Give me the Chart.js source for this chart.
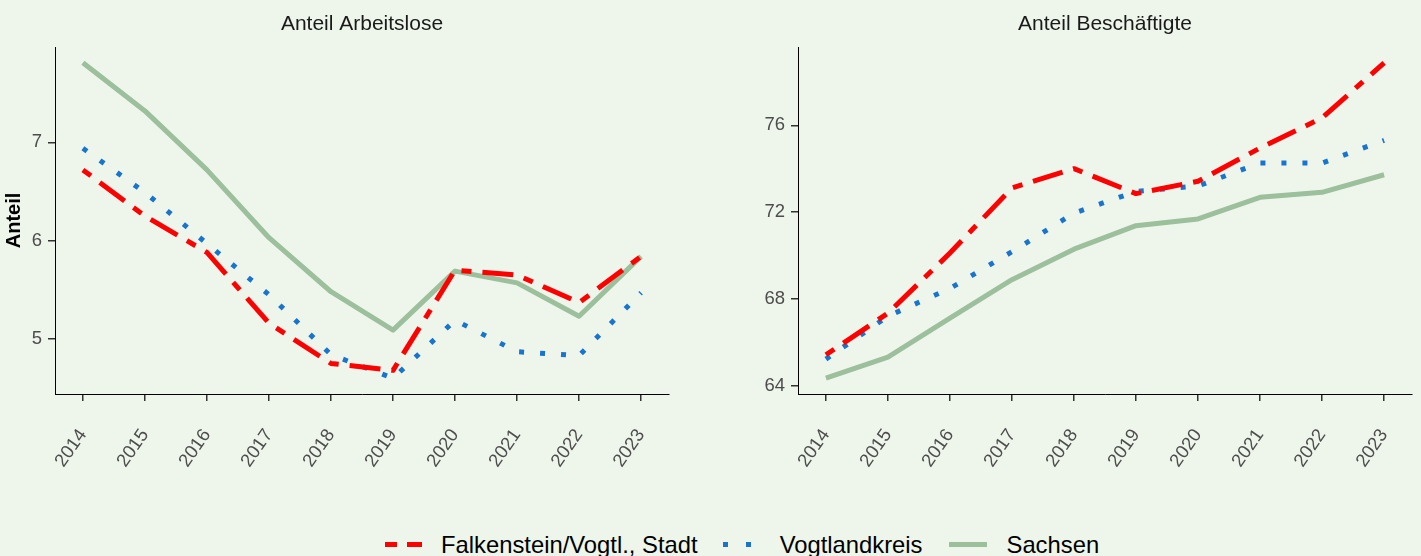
<!DOCTYPE html>
<html>
<head>
<meta charset="utf-8">
<script src="https://cdn.jsdelivr.net/npm/chart.js@4.4.0/dist/chart.umd.min.js"></script>
<style>
  html, body { margin: 0; padding: 0; background: #EEF6EB; }
  body { width: 1421px; height: 556px; position: relative; overflow: hidden; font-family: "Liberation Sans", Arial, sans-serif; }
  #left { position: absolute; left: 0; top: 0; }
  #right { position: absolute; left: 710px; top: 0; }
  #legend { position: absolute; left: 385px; top: 533px; display: flex; align-items: center; font-size: 23.8px; line-height: 23px; color: #000; white-space: nowrap; }
  .sw { display: inline-block; width: 38px; height: 5px; }
</style>
</head>
<body>
<canvas id="left" width="700" height="480"></canvas>
<canvas id="right" width="711" height="480"></canvas>
<div id="legend">
  <span class="sw" style="margin-right: 18px; background: linear-gradient(to right, #FF0000 0 12px, transparent 12px 22px, #FF0000 22px 37px, transparent 37px);"></span><span style="margin-right: 20px;">Falkenstein/Vogtl., Stadt</span>
  <span class="sw" style="margin-right: 24px; background: linear-gradient(to right, transparent 0 5px, #1874CD 5px 10px, transparent 10px 28px, #1874CD 28px 33px, transparent 33px);"></span><span style="margin-right: 26px;">Vogtlandkreis</span>
  <span class="sw" style="margin-right: 20px; background: #9CBF9C;"></span><span>Sachsen</span>
</div>
<script>
const years = [2014, 2015, 2016, 2017, 2018, 2019, 2020, 2021, 2022, 2023];

// Anteil Arbeitslose
const falkA = [6.72, 6.25, 5.88, 5.16, 4.75, 4.68, 5.70, 5.65, 5.37, 5.84];
const vogtA = [6.94, 6.49, 5.97, 5.45, 4.84, 4.60, 5.19, 4.87, 4.83, 5.47];
const sachA = [7.81, 7.32, 6.72, 6.03, 5.48, 5.09, 5.69, 5.57, 5.23, 5.84];
const ticksA = [5, 6, 7];

// Anteil Beschäftigte
const falkB = [65.42, 67.34, 70.11, 73.11, 74.00, 72.85, 73.42, 74.95, 76.34, 78.88];
const vogtB = [65.22, 67.20, 68.48, 70.17, 71.95, 72.95, 73.20, 74.26, 74.26, 75.30];
const sachB = [64.34, 65.31, 67.11, 68.88, 70.29, 71.37, 71.68, 72.68, 72.91, 73.72];
const ticksB = [64, 68, 72, 76];

const names = ["Falkenstein/Vogtl., Stadt", "Vogtlandkreis", "Sachsen"];

const FONT = "'Liberation Sans', Arial, sans-serif";

// titel mittig über der plotfläche
const panelTitle = {
  id: "panelTitle",
  afterDraw(chart, args, opts) {
    const { ctx, chartArea } = chart;
    ctx.save();
    ctx.font = "21px " + FONT;
    ctx.fillStyle = "#1A1A1A";
    ctx.textAlign = "center";
    ctx.textBaseline = "alphabetic";
    ctx.fillText(opts.text, (chartArea.left + chartArea.right) / 2, 30);
    ctx.restore();
  }
};

function pts(vals) {
  return years.map((y, i) => ({ x: y, y: vals[i] }));
}

function range(arrs) {
  const all = [].concat(...arrs);
  const lo = Math.min(...all), hi = Math.max(...all);
  const pad = (hi - lo) * 0.05;
  return [lo - pad, hi + pad];
}

function makeChart(id, title, series, yTicks, yWidth, padRight, yTitle) {
  const [ymin, ymax] = range(series);
  return new Chart(document.getElementById(id), {
    type: "line",
    data: {
      datasets: [
        { label: names[0], data: pts(series[0]), borderColor: "#FF0000", borderWidth: 5,
          borderDash: [10, 11, 31, 11], borderCapStyle: "butt", borderJoinStyle: "round" },
        { label: names[1], data: pts(series[1]), borderColor: "#1874CD", borderWidth: 5,
          borderDash: [5, 16], borderCapStyle: "butt", borderJoinStyle: "round" },
        { label: names[2], data: pts(series[2]), borderColor: "#9CBF9C", borderWidth: 5,
          borderCapStyle: "butt", borderJoinStyle: "round" }
      ]
    },
    options: {
      responsive: false,
      animation: false,
      devicePixelRatio: 1,
      layout: { padding: { top: 47, right: padRight, left: 0, bottom: 0 } },
      elements: { point: { radius: 0 }, line: { tension: 0 } },
      plugins: {
        legend: { display: false },
        tooltip: { enabled: false },
        panelTitle: { text: title }
      },
      scales: {
        x: {
          type: "linear",
          min: 2013.55,
          max: 2023.45,
          afterBuildTicks: s => { s.ticks = years.map(v => ({ value: v })); },
          afterFit: s => { s.height = 86; s.paddingLeft = 0; s.paddingRight = 0; },
          ticks: {
            autoSkip: false, minRotation: 55, maxRotation: 55, padding: 24,
            color: "#4D4D4D", font: { family: FONT, size: 18.5 },
            callback: v => String(v)
          },
          grid: { drawOnChartArea: false, drawTicks: true, tickLength: 7, color: "#333333", lineWidth: 1.5 },
          border: { display: true, color: "#000000", width: 1 }
        },
        y: {
          min: ymin,
          max: ymax,
          afterBuildTicks: s => { s.ticks = yTicks.map(v => ({ value: v })); },
          afterFit: s => { s.width = yWidth; s.paddingTop = 0; s.paddingBottom = 0; },
          ticks: {
            padding: 6, color: "#4D4D4D", font: { family: FONT, size: 18.5 },
            callback: v => String(v)
          },
          title: {
            display: !!yTitle, text: yTitle || "", color: "#000000",
            font: { family: FONT, size: 20, weight: "bold" }, padding: { top: 2, bottom: 0 }
          },
          grid: { drawOnChartArea: false, drawTicks: true, tickLength: 7, color: "#333333", lineWidth: 1.5 },
          border: { display: true, color: "#000000", width: 1 }
        }
      }
    },
    plugins: [panelTitle]
  });
}

makeChart("left", "Anteil Arbeitslose", [falkA, vogtA, sachA], ticksA, 55, 31, "Anteil");
makeChart("right", "Anteil Beschäftigte", [falkB, vogtB, sachB], ticksB, 88, 9, "");
</script>
</body>
</html>
